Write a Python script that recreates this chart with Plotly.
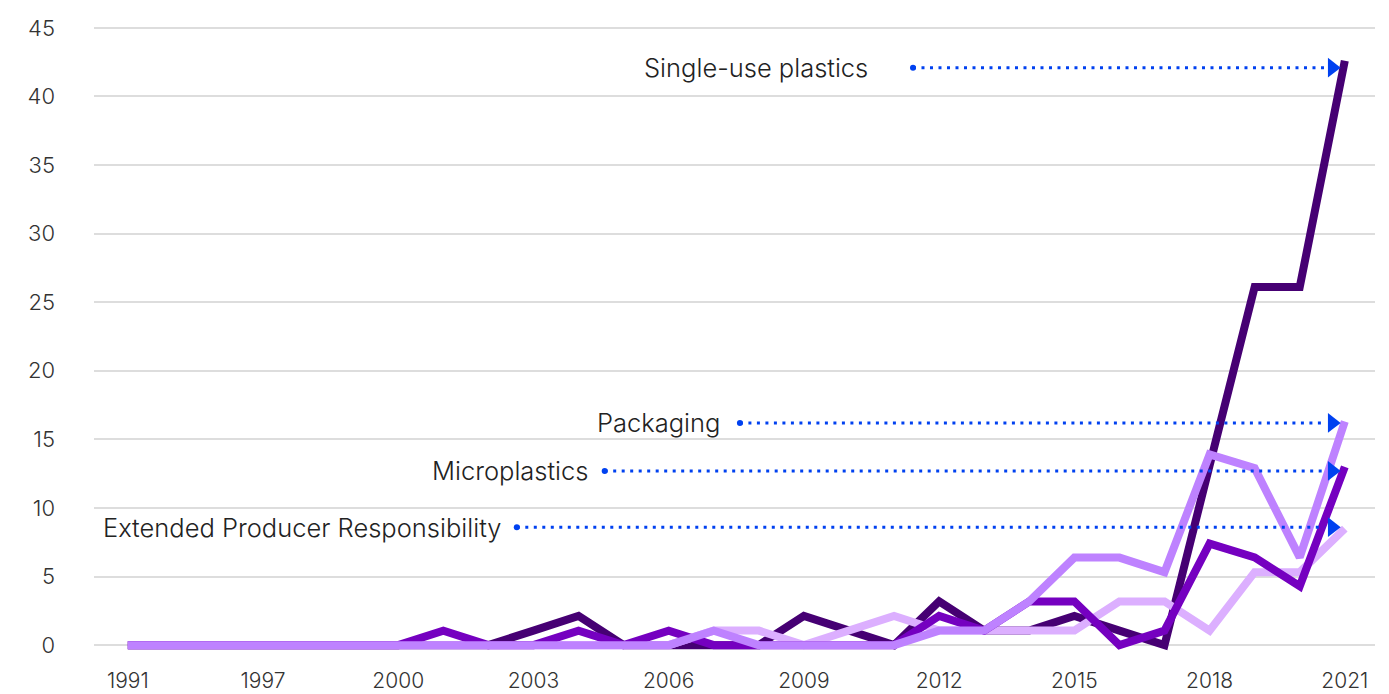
import plotly.graph_objects as go

# ---- data ----
years = ["1991", "1993", "1995", "1997", "1998", "1999", "2000", "2001", "2002",
         "2003", "2004", "2005", "2006", "2007", "2008", "2009", "2010", "2011",
         "2012", "2013", "2014", "2015", "2016", "2017", "2018", "2019", "2020", "2021"]

single_use = [0, 0, 0, 0, 0, 0, 0, 0, 0, 1.06, 2.13, 0, 0, 0, 0, 2.13, 1.06, 0,
              3.19, 1.06, 1.06, 2.13, 1.06, 0, 13.1, 26.1, 26.1, 42.6]
epr = [0, 0, 0, 0, 0, 0, 0, 0, 0, 0, 0, 0, 0, 1.06, 1.06, 0, 1.06, 2.13,
       1.06, 1.06, 1.06, 1.06, 3.19, 3.19, 1.06, 5.32, 5.32, 8.5]
microplastics = [0, 0, 0, 0, 0, 0, 0, 1.06, 0, 0, 1.06, 0, 1.06, 0, 0, 0, 0, 0,
                 2.13, 1.06, 3.19, 3.19, 0, 1.06, 7.4, 6.4, 4.3, 13.0]
packaging = [0, 0, 0, 0, 0, 0, 0, 0, 0, 0, 0, 0, 0, 1.06, 0, 0, 0, 0,
             1.06, 1.06, 3.19, 6.38, 6.38, 5.32, 13.9, 12.9, 6.4, 16.3]

series_names = ["Single-use plastics", "Extended Producer Responsibility",
                "Microplastics", "Packaging"]
series_values = [single_use, epr, microplastics, packaging]
series_colors = ["#460073", "#DCAFFF", "#7500C0", "#BE82FF"]

y_ticks = [0, 5, 10, 15, 20, 25, 30, 35, 40, 45]

# label layout (positions in category-index / axis units)
label_y = {"Single-use plastics": 42.1, "Packaging": 16.2,
           "Microplastics": 12.7, "Extended Producer Responsibility": 8.6}
label_dot_x = {"Single-use plastics": 17.42, "Packaging": 13.58,
               "Microplastics": 10.58, "Extended Producer Responsibility": 8.63}
label_text_x = {"Single-use plastics": 16.46, "Packaging": 13.18,
                "Microplastics": 10.25, "Extended Producer Responsibility": 8.32}
arrow_end_x = 26.55
arrow_head_x = 26.72

FONT = "Inter"
BLUE = "#0041F0"

x_idx = list(range(len(years)))

fig = go.Figure()

for name, vals, col in zip(series_names, series_values, series_colors):
    fig.add_trace(go.Scatter(x=x_idx, y=vals, mode="lines", name=name,
                             line=dict(color=col, width=8), hoverinfo="skip",
                             showlegend=False))

annotations = []
for name in series_names:
    yv = label_y[name]
    x0 = label_dot_x[name]
    fig.add_trace(go.Scatter(x=[x0, arrow_end_x], y=[yv, yv], mode="lines",
                             line=dict(color=BLUE, width=3, dash="3px,5.5px"),
                             hoverinfo="skip", showlegend=False))
    fig.add_trace(go.Scatter(x=[x0], y=[yv], mode="markers",
                             marker=dict(symbol="circle", size=6, color=BLUE),
                             hoverinfo="skip", showlegend=False))
    fig.add_trace(go.Scatter(x=[arrow_head_x], y=[yv], mode="markers",
                             marker=dict(symbol="triangle-right", size=17, color=BLUE),
                             hoverinfo="skip", showlegend=False))
    annotations.append(dict(x=label_text_x[name], y=yv, xref="x", yref="y",
                            text=name, showarrow=False, xanchor="right",
                            yanchor="middle",
                            font=dict(family=FONT, size=25.5, color="#222222", weight=300)))

fig.update_layout(
    width=1389, height=694,
    margin=dict(l=94, r=14, t=21, b=42, autoexpand=False),
    paper_bgcolor="white", plot_bgcolor="white",
    font=dict(family=FONT, color="#333333", weight=300),
    annotations=annotations,
    showlegend=False,
)
fig.update_xaxes(range=[-0.75, 27.67], tickmode="array",
                 tickvals=x_idx[::3], ticktext=years[::3],
                 showgrid=False, zeroline=False, showline=False, ticks="",
                 automargin=False,
                 tickfont=dict(family=FONT, size=21, color="#333333", weight=300),
                 ticklabelstandoff=14)
fig.update_yaxes(range=[-0.5, 45.5], tickmode="array", tickvals=y_ticks,
                 showgrid=True, gridcolor="#DDDDDD", gridwidth=1.5,
                 zeroline=False, showline=False, ticks="",
                 automargin=False,
                 tickfont=dict(family=FONT, size=22, color="#333333", weight=300),
                 ticklabelstandoff=38)

fig.write_html("out.html")
